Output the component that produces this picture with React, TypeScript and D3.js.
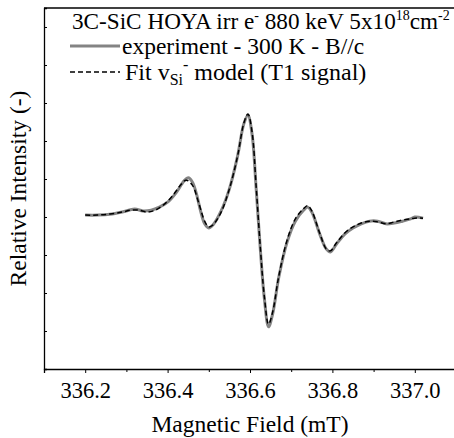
import React, { useEffect, useRef } from 'react';
import * as d3 from 'd3';

// field (mT) and relative intensity (arb.)
const expField = [336.2, 336.23, 336.26, 336.29, 336.32, 336.34, 336.36, 336.38, 336.4, 336.42, 336.44, 336.45, 336.46, 336.47, 336.48, 336.49, 336.5, 336.51, 336.53, 336.55, 336.57, 336.585, 336.595, 336.605, 336.615, 336.625, 336.635, 336.645, 336.655, 336.67, 336.69, 336.71, 336.73, 336.74, 336.75, 336.77, 336.785, 336.795, 336.81, 336.83, 336.85, 336.87, 336.89, 336.91, 336.93, 336.95, 336.97, 336.99, 337.0, 337.02];
const expValues = [4.05, 4.05, 4.07, 4.13, 4.21, 4.16, 4.18, 4.26, 4.39, 4.63, 4.95, 5.03, 4.92, 4.61, 4.16, 3.82, 3.71, 3.79, 4.16, 4.74, 5.61, 6.45, 6.68, 6.18, 4.74, 3.16, 1.84, 1.11, 1.45, 2.42, 3.34, 3.89, 4.18, 4.26, 4.13, 3.53, 3.16, 3.08, 3.29, 3.55, 3.71, 3.82, 3.89, 3.89, 3.82, 3.84, 3.89, 3.95, 4.0, 3.97];

const fitField = [336.2, 336.23, 336.26, 336.29, 336.31, 336.33, 336.35, 336.37, 336.39, 336.41, 336.43, 336.445, 336.46, 336.475, 336.49, 336.5, 336.51, 336.53, 336.55, 336.57, 336.585, 336.595, 336.605, 336.615, 336.625, 336.635, 336.645, 336.655, 336.67, 336.69, 336.71, 336.73, 336.74, 336.75, 336.77, 336.785, 336.795, 336.81, 336.83, 336.85, 336.87, 336.89, 336.91, 336.93, 336.95, 336.97, 336.99, 337.0, 337.02];
const fitValues = [4.05, 4.05, 4.08, 4.13, 4.18, 4.18, 4.13, 4.18, 4.32, 4.53, 4.82, 4.97, 4.84, 4.39, 3.89, 3.74, 3.79, 4.13, 4.74, 5.61, 6.47, 6.71, 6.24, 4.79, 3.21, 1.89, 1.18, 1.5, 2.45, 3.39, 3.95, 4.22, 4.3, 4.16, 3.55, 3.16, 3.11, 3.32, 3.58, 3.74, 3.84, 3.89, 3.87, 3.82, 3.87, 3.92, 3.95, 3.97, 3.97];

const xTicks = [336.2, 336.4, 336.6, 336.8, 337.0];
const xMinorTicks = [336.1, 336.3, 336.5, 336.7, 336.9, 337.1];
const yTicks = [0, 1, 2, 3, 4, 5, 6, 7, 8, 9];

const W = 454;
const H = 438;
const FONT = 'Liberation Serif';

const App = () => {
  const ref = useRef<SVGSVGElement>(null);

  useEffect(() => {
    const svg = d3.select(ref.current);
    svg.selectAll('*').remove();

    const margin = { top: 8, right: -2, bottom: 69, left: 44 };
    const x = d3.scaleLinear().domain([336.1, 337.1]).range([margin.left, W - margin.right]);
    const y = d3.scaleLinear().domain([0, 9.5]).range([H - margin.bottom, margin.top]);

    // frame
    svg.append('line')
      .attr('x1', margin.left).attr('x2', W)
      .attr('y1', margin.top).attr('y2', margin.top)
      .attr('stroke', '#000').attr('stroke-width', 1.3);

    // bottom axis
    const xAxis = svg.append('g')
      .attr('transform', `translate(0,${H - margin.bottom})`)
      .call(d3.axisBottom(x).tickValues(xTicks).tickSize(4).tickFormat(d3.format('.1f')));
    xAxis.attr('font-family', null).attr('font-size', null);
    xAxis.select('.domain').attr('stroke-width', 1.3);
    xAxis.selectAll('text')
      .style('font-size', '22.5px').attr('fill', '#000').attr('y', 29).attr('dy', 0);

    svg.append('g')
      .attr('transform', `translate(0,${H - margin.bottom})`)
      .call(d3.axisBottom(x).tickValues(xMinorTicks).tickSize(3).tickFormat(() => ''))
      .select('.domain').remove();

    // left axis, inward ticks, no labels
    const yAxis = svg.append('g')
      .attr('transform', `translate(${margin.left},0)`)
      .call(d3.axisLeft(y).tickValues(yTicks).tickSize(-3).tickFormat(() => ''));
    yAxis.select('.domain').attr('stroke-width', 1.3);

    const line = d3.line<[number, number]>()
      .x(d => x(d[0]))
      .y(d => y(d[1]))
      .curve(d3.curveCatmullRom.alpha(0.5));

    const expData = expField.map((f, i) => [f, expValues[i]] as [number, number]);
    const fitData = fitField.map((f, i) => [f, fitValues[i]] as [number, number]);

    svg.append('path')
      .datum(expData)
      .attr('d', line)
      .attr('fill', 'none')
      .attr('stroke', '#848484')
      .attr('stroke-width', 3);

    svg.append('path')
      .datum(fitData)
      .attr('d', line)
      .attr('fill', 'none')
      .attr('stroke', '#000')
      .attr('stroke-width', 1.5)
      .attr('stroke-dasharray', '5,3');

    // legend
    const title = svg.append('text')
      .attr('x', 72).attr('y', 29)
      .style('font-size', '23.2px');
    title.append('tspan').text('3C-SiC HOYA irr e');
    title.append('tspan').attr('dy', -9).style('font-size', '14px').text('-');
    title.append('tspan').attr('dy', 9).text(' 880 keV 5x10');
    title.append('tspan').attr('dy', -9).style('font-size', '14px').text('18');
    title.append('tspan').attr('dy', 9).text('cm');
    title.append('tspan').attr('dy', -9).style('font-size', '14px').text('-2');

    svg.append('line')
      .attr('x1', 70).attr('x2', 120).attr('y1', 46).attr('y2', 46)
      .attr('stroke', '#848484').attr('stroke-width', 3);
    svg.append('text')
      .attr('x', 122).attr('y', 54)
      .style('font-size', '23.5px')
      .text('experiment - 300 K - B//c');

    svg.append('line')
      .attr('x1', 70).attr('x2', 120).attr('y1', 72).attr('y2', 72)
      .attr('stroke', '#000').attr('stroke-width', 1.5).attr('stroke-dasharray', '5,3');
    const fit = svg.append('text')
      .attr('x', 125).attr('y', 80)
      .style('font-size', '24px');
    fit.append('tspan').text('Fit v');
    fit.append('tspan').attr('dy', 5).style('font-size', '16px').text('Si');
    fit.append('tspan').attr('dy', -15).style('font-size', '16px').text('-');
    fit.append('tspan').attr('dy', 10).text(' model (T1 signal)');

    // axis titles
    svg.append('text')
      .attr('x', 250).attr('y', 432)
      .attr('text-anchor', 'middle')
      .style('font-size', '23.5px')
      .text('Magnetic Field (mT)');

    svg.append('text')
      .attr('transform', `translate(26,${(margin.top + H - margin.bottom) / 2}) rotate(-90)`)
      .attr('text-anchor', 'middle')
      .style('font-size', '23.5px')
      .text('Relative Intensity (-)');
  }, []);

  return (
    <svg
      ref={ref}
      width={W}
      height={H}
      style={{ display: 'block', position: 'absolute', left: 0, top: 0, fontFamily: FONT }}
    />
  );
};

export default App;
